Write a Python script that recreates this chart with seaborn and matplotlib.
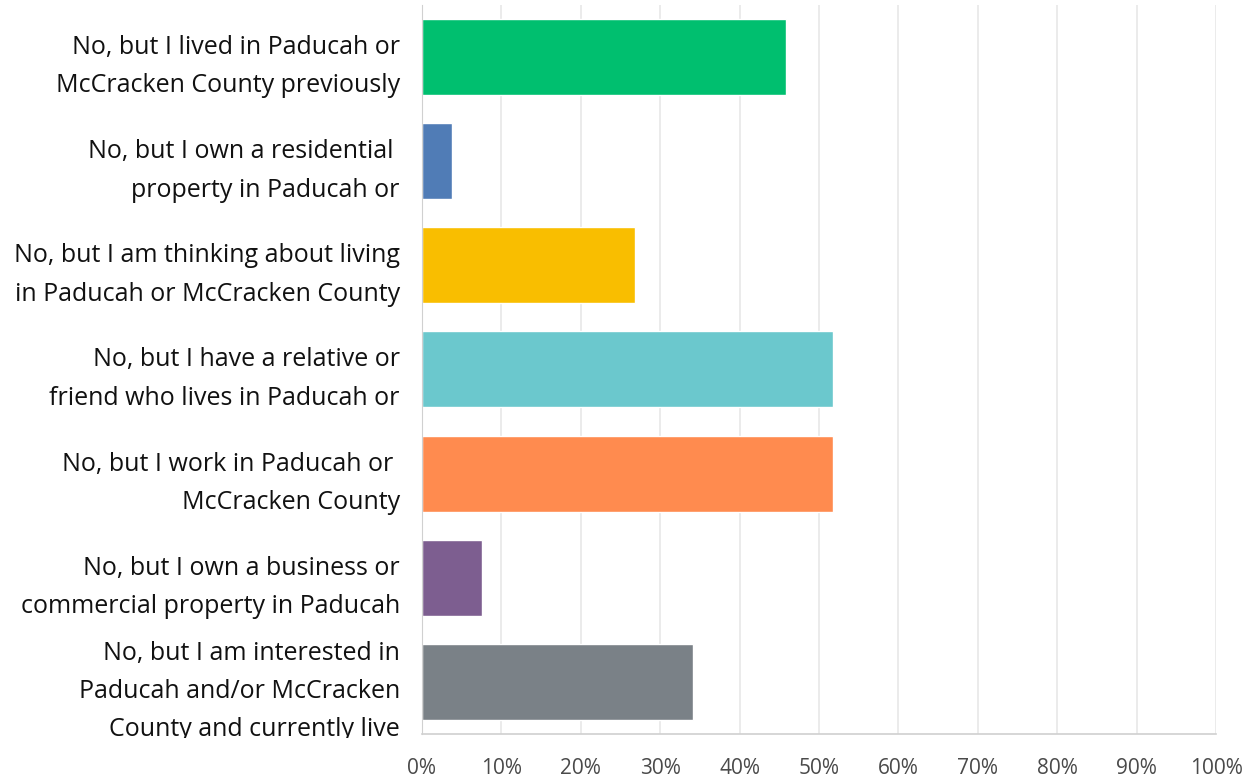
import pandas as pd
import matplotlib
matplotlib.use("Agg")
import matplotlib.pyplot as plt
import seaborn as sns
from matplotlib.ticker import MultipleLocator, PercentFormatter
from matplotlib.transforms import Bbox, TransformedBbox

answers = [
    "No, but I lived in Paducah or\nMcCracken County previously",
    "No, but I own a residential \nproperty in Paducah or",
    "No, but I am thinking about living\nin Paducah or McCracken County",
    "No, but I have a relative or\nfriend who lives in Paducah or",
    "No, but I work in Paducah or \nMcCracken County",
    "No, but I own a business or\ncommercial property in Paducah",
    "No, but I am interested in\nPaducah and/or McCracken\nCounty and currently live",
]
shares = [45.8, 3.8, 26.8, 51.8, 51.8, 7.6, 34.1]
bar_colors = ["#00BF6F", "#507CB6", "#F9BE00", "#6BC8CD", "#FF8B4F", "#7D5E90", "#7A8187"]

df = pd.DataFrame({"answer": answers, "share": shares})

sns.set_style("white")
plt.rcParams["font.family"] = ["Open Sans", "DejaVu Sans"]

fig = plt.figure(figsize=(12.43, 7.8), dpi=100)
ax = fig.add_axes([0.3395, 0.059, 0.6388, 0.9346])

sns.barplot(
    data=df,
    y="answer",
    x="share",
    hue="answer",
    palette=bar_colors,
    order=answers,
    hue_order=answers,
    legend=False,
    width=0.73,
    saturation=1,
    orient="h",
    ax=ax,
)

ax.set_xlim(0, 100)
ax.set_ylim(6.5, -0.5)
ax.xaxis.set_major_locator(MultipleLocator(10))
ax.xaxis.set_major_formatter(PercentFormatter(decimals=0))
ax.grid(axis="x", color="#E8E8E8", linewidth=1.2)
ax.set_axisbelow(True)
ax.set_xlabel("")
ax.set_ylabel("")

for side in ["top", "right"]:
    ax.spines[side].set_visible(False)
ax.spines["left"].set_color("#D0D0D0")
ax.spines["bottom"].set_color("#D0D0D0")
ax.spines["bottom"].set_linewidth(1.2)

ax.tick_params(axis="y", length=0, pad=16, labelsize=18, labelcolor="#111111")
ax.tick_params(axis="x", length=0, pad=17, labelsize=15, labelcolor="#4A4A4A")

# the last label runs past the bottom of the chart and is cut off there
clip = TransformedBbox(Bbox([[0, 0.0538], [1, 1]]), fig.transFigure)
for lbl in ax.get_yticklabels():
    lbl.set_linespacing(1.7)
    lbl.set_clip_box(clip)
    lbl.set_clip_on(True)

fig.savefig("out.png", dpi=100)
plt.close(fig)
